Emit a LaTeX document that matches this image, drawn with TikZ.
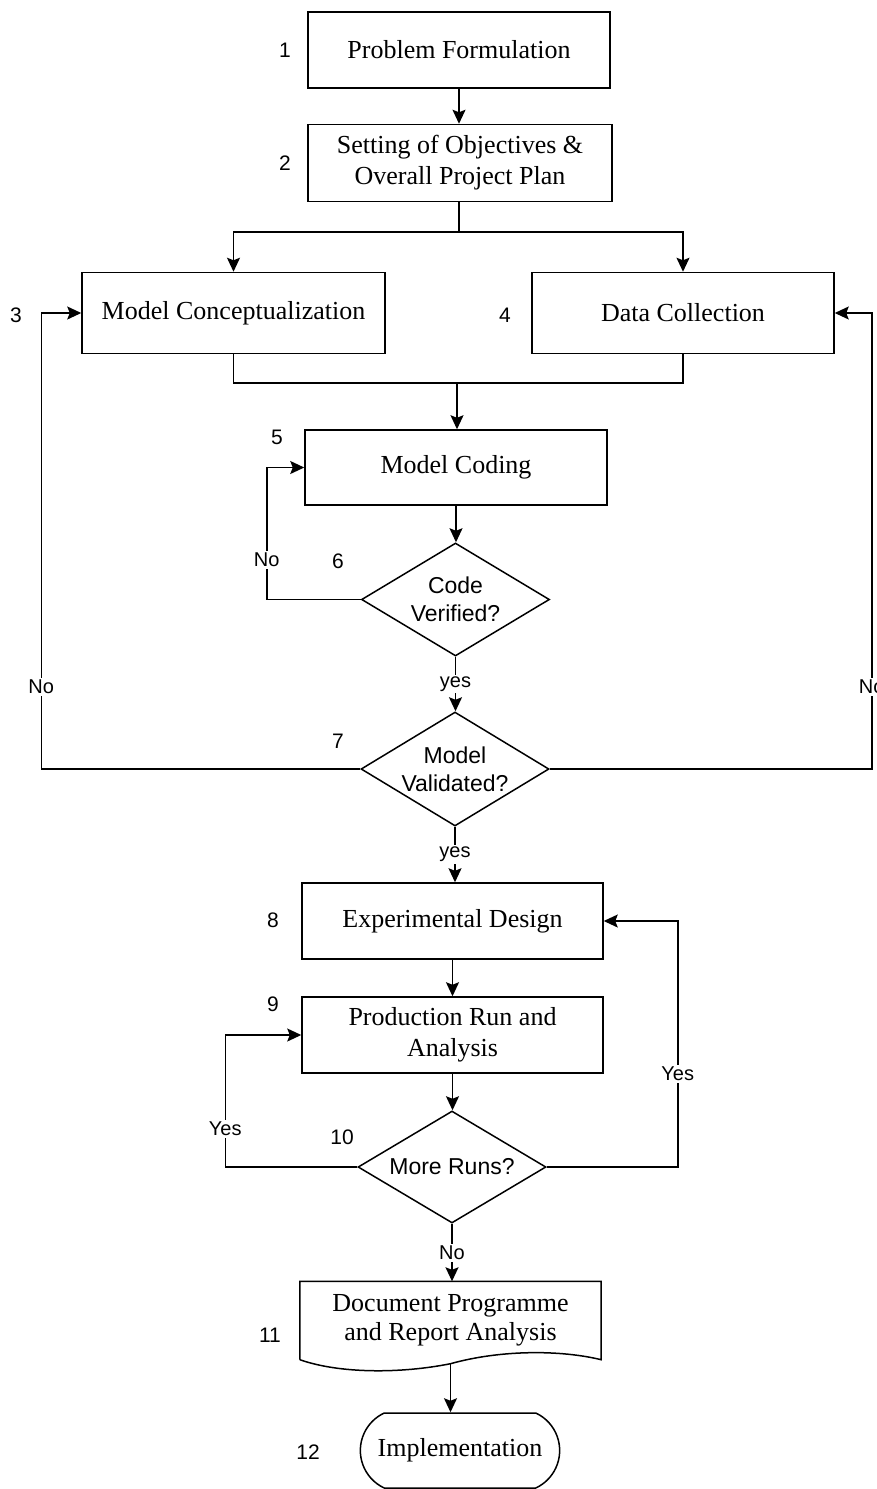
\documentclass[tikz,border=0pt]{standalone}
\usepackage{fontspec}
\setmainfont{Liberation Serif}
\setsansfont{Liberation Sans}
\usetikzlibrary{shapes.geometric,shapes.misc,arrows.meta,calc}

\tikzset{
  box/.style={draw, line width=1.5pt, minimum width=302pt, minimum height=76pt,
    inner sep=0pt, align=center, font=\fontsize{26}{31}\selectfont},
  decision/.style={draw, diamond, aspect=1.65, line width=1.5pt, minimum width=188pt,
    minimum height=113pt, inner sep=0pt, align=center, font=\sffamily\fontsize{23}{28}\selectfont},
  num/.style={font=\sffamily\fontsize{21}{24}\selectfont},
  lbl/.style={fill=white, inner sep=2pt, font=\sffamily\fontsize{20}{24}\selectfont},
  flow/.style={line width=1.5pt, -{Stealth[length=14pt,width=13pt,inset=2.5pt]}},
  line/.style={line width=1.5pt},
}

\begin{document}
\begin{tikzpicture}[x=1pt,y=-1pt]
  \useasboundingbox (0,0) rectangle (877,1489);

  % Boites
  \node[box] (form) at (459,50) {Problem Formulation};
  \node[box, minimum width=304pt, minimum height=77pt] (plan) at (460,163) {Setting of Objectives \&\\Overall Project Plan};
  \node[box, minimum width=303pt, minimum height=81pt] (concept) at (233.5,313) {Model Conceptualization};
  \node[box, minimum width=302pt, minimum height=81pt] (data) at (683,313) {Data Collection};
  \node[box, minimum height=75pt] (coding) at (456,467.5) {Model Coding};
  \node[decision] (verif) at (455.5,599.5) {Code\\Verified?};
  \node[decision, minimum height=114pt] (valid) at (455,769) {Model\\Validated?};
  \node[box, minimum width=301pt] (design) at (452.5,921) {Experimental Design};
  \node[box, minimum width=301pt] (prod) at (452.5,1035) {Production Run and\\Analysis};
  \node[decision, minimum height=112pt] (runs) at (452,1167) {More Runs?};
  \node[minimum width=301pt, minimum height=78pt, inner sep=0pt, align=center,
    font=\fontsize{26}{29}\selectfont] (doc) at (450.5,1320.5) {Document Programme\\and Report Analysis};
  \node[draw, rounded rectangle, rounded rectangle arc length=130, line width=1.5pt,
    minimum width=206pt, minimum height=75pt, font=\fontsize{26}{31}\selectfont] (impl) at (460,1450.5) {Implementation};

  % Document
  \draw[line] (doc.south west) -- (doc.north west) -- (doc.north east) -- (doc.south east)
    .. controls ($(doc.south east)+(-41,-10)$) and ($(doc.south)+(50,-10)$) .. ($(doc.south)+(0,4)$)
    .. controls ($(doc.south)+(-50,14)$) and ($(doc.south west)+(40,14)$) .. (doc.south west);
  \coordinate (docbot) at ($(doc.south)+(0,4)$);

  % Numeros
  \node[num] at (285,50) {1};
  \node[num] at (285,163) {2};
  \node[num] at (16,315) {3};
  \node[num] at (505,315) {4};
  \node[num] at (277,437) {5};
  \node[num] at (338,561) {6};
  \node[num] at (338,741) {7};
  \node[num] at (273,920) {8};
  \node[num] at (273,1004) {9};
  \node[num] at (342,1137) {10};
  \node[num] at (270,1335) {11};
  \node[num] at (308,1452) {12};

  % Fleches principales
  \draw[flow] (form.south) -- (form.south |- plan.north);
  \coordinate (split) at (459,232);
  \draw[line] (plan.south -| split) -- (split);
  \draw[flow] (split) -| (concept.north);
  \draw[flow] (split) -| (data.north);
  \coordinate (merge) at (457,383);
  \draw[line] (concept.south) |- (merge) -| (data.south);
  \draw[flow] (merge) -- (merge |- coding.north);
  \draw[flow] (coding.south) -- (coding.south |- verif.north);
  \draw[flow] (verif.south) -- node[lbl] {yes} (verif.south |- valid.north);
  \draw[flow] (valid.south) -- node[lbl] {yes} (valid.south |- design.north);
  \draw[flow] (design.south) -- (design.south |- prod.north);
  \draw[flow] (prod.south) -- (prod.south |- runs.north);
  \draw[flow] (runs.south) -- node[lbl] {No} (runs.south |- doc.north);
  \draw[flow] (docbot) -- (docbot |- impl.north);

  % Boucles de retour
  \draw[flow] (verif.west) -- ++(-94,0) |- node[lbl, pos=0.15] {No} (coding.west);
  \draw[flow] (valid.west) -- ++(-319,0) |- node[lbl, pos=0.09] {No} (concept.west);
  \draw[flow] (valid.east) -- ++(322,0) |- node[lbl, pos=0.09] {No} (data.east);
  \draw[flow] (runs.west) -- ++(-132,0) |- node[lbl, pos=0.144] {Yes} (prod.west);
  \draw[flow] (runs.east) -- ++(131,0) |- node[lbl, pos=0.19] {Yes} (design.east);
\end{tikzpicture}
\end{document}
